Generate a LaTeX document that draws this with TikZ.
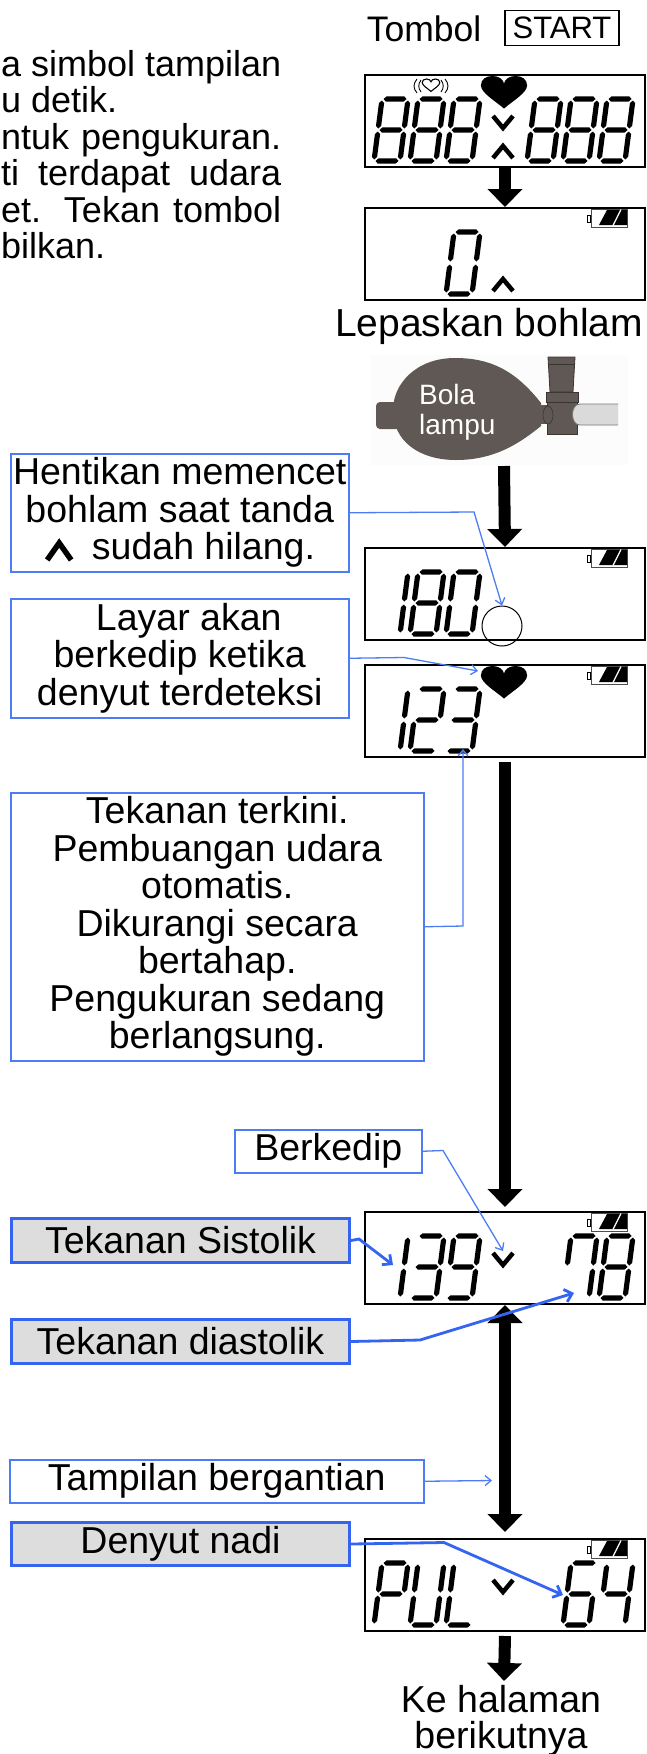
\documentclass[tikz,border=0pt]{standalone}
\usepackage{fontspec}
\setmainfont{Liberation Sans}
\usetikzlibrary{arrows.meta}

\definecolor{callblue}{RGB}{77,125,245}
\definecolor{calldark}{RGB}{52,100,240}
\definecolor{callgray}{RGB}{221,221,221}
\definecolor{bulbbrown}{RGB}{96,88,84}
\definecolor{valveedge}{RGB}{60,52,48}
\definecolor{tubegray}{RGB}{218,218,218}
\definecolor{tubeedge}{RGB}{120,120,120}
\definecolor{bulbbg}{RGB}{252,252,252}

% seven-segment pieces: horizontal (u1,u2,v) and vertical (u,v1,v2)
\newcommand\segH[3]{\fill (#1,#3) -- (#1+2.6,#3+2.6) -- (#2-2.6,#3+2.6) -- (#2,#3) -- (#2-2.6,#3-2.6) -- (#1+2.6,#3-2.6) -- cycle;}
\newcommand\segV[3]{\fill (#1,#2) -- (#1+2.6,#2+2.6) -- (#1+2.6,#3-2.6) -- (#1,#3) -- (#1-2.6,#3-2.6) -- (#1-2.6,#2+2.6) -- cycle;}
\newcommand\segA{\segH{1.5}{24.5}{62}}
\newcommand\segB{\segV{26}{32.5}{60.5}}
\newcommand\segC{\segV{26}{1.5}{29.5}}
\newcommand\segD{\segH{1.5}{24.5}{0}}
\newcommand\segE{\segV{0}{1.5}{29.5}}
\newcommand\segF{\segV{0}{32.5}{60.5}}
\newcommand\segG{\segH{1.5}{24.5}{31}}
\newcommand\chZero{\segA\segB\segC\segD\segE\segF}
\newcommand\chOne{\segB\segC}
\newcommand\chTwo{\segA\segB\segG\segE\segD}
\newcommand\chThree{\segA\segB\segG\segC\segD}
\newcommand\chFour{\segF\segG\segB\segC}
\newcommand\chSix{\segA\segF\segG\segE\segD\segC}
\newcommand\chSeven{\segA\segF\segB\segC}
\newcommand\chEight{\segA\segB\segC\segD\segE\segF\segG}
\newcommand\chNine{\segA\segB\segC\segD\segF\segG}
\newcommand\chP{\segA\segB\segE\segF\segG}
\newcommand\chU{\segB\segC\segD\segE\segF}
\newcommand\chL{\segD\segE\segF}
% one slanted LCD character, bottom-left corner at (#1,#2)
\newcommand\lcdchar[3]{\begin{scope}[shift={(#1,#2)},x={(1pt,0pt)},y={(0.13pt,1pt)}]#3\end{scope}}

% battery indicator for a display whose top-left corner is (#1,#2)
\newcommand\battery[2]{%
  \draw[line width=0.7pt] (#1+223,#2+8) rectangle (#1+226,#2+15);
  \draw[black!70, line width=0.8pt] (#1+227,#2+2) rectangle (#1+263,#2+20);
  \fill (#1+235,#2+18) -- (#1+243,#2+3) -- (#1+263,#2+3) -- (#1+263,#2+18) -- cycle;
  \draw[white, line width=1.3pt] (#1+249,#2+18.5) -- (#1+257,#2+2.5);}

% down / up chevrons inside a display with top edge #1
\newcommand\chevdown[1]{\draw[line width=4.5pt] (493,#1+42) -- (503,#1+54) -- (513,#1+42);}
\newcommand\chevup[1]{\draw[line width=4.5pt] (493,#1+84) -- (503,#1+72) -- (513,#1+84);}

% heart outline path, top centre at origin
\newcommand\heartpath{(0,31) .. controls (-8,24) and (-22,16) .. (-22,9) .. controls (-22,3) and (-17,0) .. (-11,0) .. controls (-5,0) and (-1,3) .. (0,7) .. controls (1,3) and (5,0) .. (11,0) .. controls (17,0) and (22,3) .. (22,9) .. controls (22,16) and (8,24) .. (0,31) -- cycle}

\newcommand\upcaret{\tikz[baseline=0pt]\draw[line width=5.5pt] (0pt,0pt) -- (12pt,17pt) -- (24pt,0pt);}

\begin{document}
\begin{tikzpicture}[x=1pt,y=-1pt,
  lcdbox/.style={draw=black, line width=2pt, fill=white, minimum width=280pt, minimum height=92pt, inner sep=0pt, anchor=north west},
  lbl/.style={font=\fontsize{37.5}{37.5}\selectfont, align=center, inner sep=0pt},
  para/.style={font=\fontsize{36}{37.5}\selectfont, inner sep=0pt, anchor=base west},
  thinbox/.style={lbl, draw=callblue, line width=1.5pt, fill=white, anchor=north west},
  graybox/.style={lbl, draw=calldark, line width=3pt, fill=callgray, anchor=north west},
  thinlink/.style={draw=callblue, line width=1.3pt, -{Straight Barb[length=6pt,width=10pt]}},
  thicklink/.style={draw=calldark, line width=2.8pt, -{Straight Barb[length=7pt,width=13pt]}},
  flow/.style={line width=12pt, -{Triangle[length=18pt,width=34pt]}},
]
\useasboundingbox (0,0) rectangle (646,1754);
\fill[white] (0,0) rectangle (646,1754);

% paragraph running off the left edge
\node[para] (p1) at (1,76) {\makebox[280pt][s]{a simbol tampilan}};
\node[para] (p2) at (1,112.5) {u detik.};
\node[para] (p3) at (1,149) {\makebox[280pt][s]{ntuk pengukuran.}};
\node[para] (p4) at (1,185.5) {\makebox[280pt][s]{ti terdapat udara}};
\node[para] (p5) at (1,222) {\makebox[280pt][s]{et. Tekan tombol}};
\node[para] (p6) at (1,258.5) {bilkan.};

% start button
\node[font=\fontsize{35.5}{40}\selectfont, inner sep=0pt, anchor=base] (tombol) at (424,41) {Tombol};
\node[draw, line width=1.6pt, minimum width=114pt, minimum height=35pt, font=\fontsize{31}{34}\selectfont, inner sep=0pt] (start) at (562,28) {START};

% displays
\node[lcdbox] (d1) at (364,74) {};
\node[lcdbox] (d2) at (364,207) {};
\node[lcdbox] (d3) at (364,547) {};
\node[lcdbox] (d4) at (364,664) {};
\node[lcdbox] (d5) at (364,1211) {};
\node[lcdbox] (d6) at (364,1538) {};

% display 1: all segments
\lcdchar{374}{161}{\chEight}\lcdchar{410}{161}{\chEight}\lcdchar{446}{161}{\chEight}
\lcdchar{527}{161}{\chEight}\lcdchar{563}{161}{\chEight}\lcdchar{599}{161}{\chEight}
\fill[shift={(504,76)}, scale=1.05] \heartpath;
\draw[line width=1.1pt, shift={(431,79)}, scale=0.4] \heartpath;
\draw[line width=0.9pt] (421,80) .. controls (418,84) and (418,88) .. (421,92);
\draw[line width=0.9pt] (417,79) .. controls (413,84) and (413,88) .. (417,93);
\draw[line width=0.9pt] (441,80) .. controls (444,84) and (444,88) .. (441,92);
\draw[line width=0.9pt] (445,79) .. controls (449,84) and (449,88) .. (445,93);
\chevdown{74}\chevup{74}

% display 2
\battery{364}{207}
\lcdchar{446}{294}{\chZero}
\chevup{207}

% display 3
\battery{364}{547}
\lcdchar{374}{634}{\chOne}\lcdchar{410}{634}{\chEight}\lcdchar{446}{634}{\chZero}
\node[draw, line width=1pt, circle, minimum size=40pt, inner sep=0pt] (ring) at (502,626) {};

% display 4
\battery{364}{664}
\lcdchar{374}{751}{\chOne}\lcdchar{410}{751}{\chTwo}\lcdchar{446}{751}{\chThree}
\fill[shift={(504,666)}, scale=1.05] \heartpath;

% display 5
\battery{364}{1211}
\lcdchar{374}{1298}{\chOne}\lcdchar{410}{1298}{\chThree}\lcdchar{446}{1298}{\chNine}
\lcdchar{563}{1298}{\chSeven}\lcdchar{599}{1298}{\chEight}
\chevdown{1211}

% display 6
\battery{364}{1538}
\lcdchar{374}{1625}{\chP}\lcdchar{410}{1625}{\chU}\lcdchar{446}{1625}{\chL}
\lcdchar{563}{1625}{\chSix}\lcdchar{599}{1625}{\chFour}
\chevdown{1538}

\node[lbl, anchor=base, font=\fontsize{39}{40}\selectfont] (lepas) at (489,336) {Lepaskan bohlam};

% hand bulb
\fill[bulbbg] (370,355) rectangle (628,465);
\fill[bulbbrown, rounded corners=4pt] (376,402) rectangle (400,429);
\fill[bulbbrown] (541,403) .. controls (515,370) and (490,358) .. (455,358) .. controls (416,358) and (393,384) .. (393,410) .. controls (393,441) and (419,460) .. (456,460) .. controls (495,460) and (520,443) .. (541,426) -- cycle;
\fill[bulbbrown] (538,405) rectangle (550,424);
\fill[bulbbrown, draw=valveedge, line width=0.8pt] (547,398) rectangle (577,434);
\fill[bulbbrown, draw=valveedge, line width=0.8pt] (546,392) rectangle (578,402);
\fill[bulbbrown, draw=valveedge, line width=0.8pt] (548,357) -- (575,357) -- (573,392) -- (550,392) -- cycle;
\draw[valveedge, line width=0.8pt] (548,364) -- (575,364);
\fill[bulbbrown, draw=valveedge, line width=0.6pt] (548,415) ellipse (5pt and 9pt);
\fill[tubegray, draw=tubeedge, line width=0.8pt] (618,404) -- (580,404) .. controls (570,404) and (570,425) .. (580,425) -- (618,425);
\node[anchor=north west, align=left, text=white, font=\fontsize{28}{30}\selectfont, inner sep=0pt] (bulbtxt) at (419,384) {Bola\\lampu};

% callouts
\node[thinbox, minimum width=338pt, minimum height=118pt] (hent) at (10,453) {Hentikan memencet\\bohlam saat tanda\\\upcaret\hspace{18pt}sudah hilang.};
\node[thinbox, minimum width=338pt, minimum height=119pt] (layar) at (10,598) {\hspace*{18pt}Layar akan\\berkedip ketika\\denyut terdeteksi};
\node[thinbox, minimum width=413pt, minimum height=268pt] (tek) at (10,792) {Tekanan terkini.\\Pembuangan udara\\otomatis.\\Dikurangi secara\\bertahap.\\Pengukuran sedang\\berlangsung.};
\node[thinbox, minimum width=187pt, minimum height=43pt] (berk) at (234,1129) {Berkedip};
\node[graybox, minimum width=338pt, minimum height=44pt] (sys) at (10,1217) {Tekanan Sistolik};
\node[graybox, minimum width=338pt, minimum height=44pt] (dia) at (10,1318) {Tekanan diastolik};
\node[thinbox, minimum width=414pt, minimum height=43pt] (tamp) at (9,1459) {Tampilan bergantian};
\node[graybox, minimum width=338pt, minimum height=43pt] (den) at (10,1521) {Denyut nadi};

\node[lbl, anchor=base] (next1) at (501,1712) {Ke halaman};
\node[lbl, anchor=base] (next2) at (501,1748) {berikutnya};

% free ends of connectors
\coordinate (bulbend) at (504,466);
\coordinate (nextpt) at (504,1681);
\coordinate (heartpt) at (478,671);
\coordinate (digpt) at (463,749);
\coordinate (vpt) at (503,1251);
\coordinate (tamppt) at (492,1480.5);
\coordinate (syspt) at (393,1265);
\coordinate (diapt) at (574,1293);
\coordinate (pulpt) at (563,1595);

% flow arrows
\draw[flow] (d1.south) -- (d2.north);
\draw[flow] (bulbend) -- (d3.north);
\draw[flow] ([yshift=-4pt]d4.south) -- ([yshift=4pt]d5.north);
\draw[line width=12pt, {Triangle[length=18pt,width=34pt]}-{Triangle[length=18pt,width=34pt]}] (d5.south) -- ([yshift=6pt]d6.north);
\draw[flow] ([yshift=-4pt]d6.south) -- (nextpt);

% callout leaders
\draw[thinlink] (hent.east) -- (474,512) -- (ring.north);
\draw[thinlink] (layar.east) -- (404,657.5) -- (heartpt);
\draw[thinlink] (tek.east) -- (463,926) -- (digpt);
\draw[thinlink] (berk.east) -- (443,1150.5) -- (vpt);
\draw[thinlink] (tamp.east) -- (tamppt);
\draw[thicklink] (sys.east) -- (359,1239) -- (syspt);
\draw[thicklink] (dia.east) -- (420,1340) -- (diapt);
\draw[thicklink] (den.east) -- (444,1542.5) -- (pulpt);
\end{tikzpicture}
\end{document}
